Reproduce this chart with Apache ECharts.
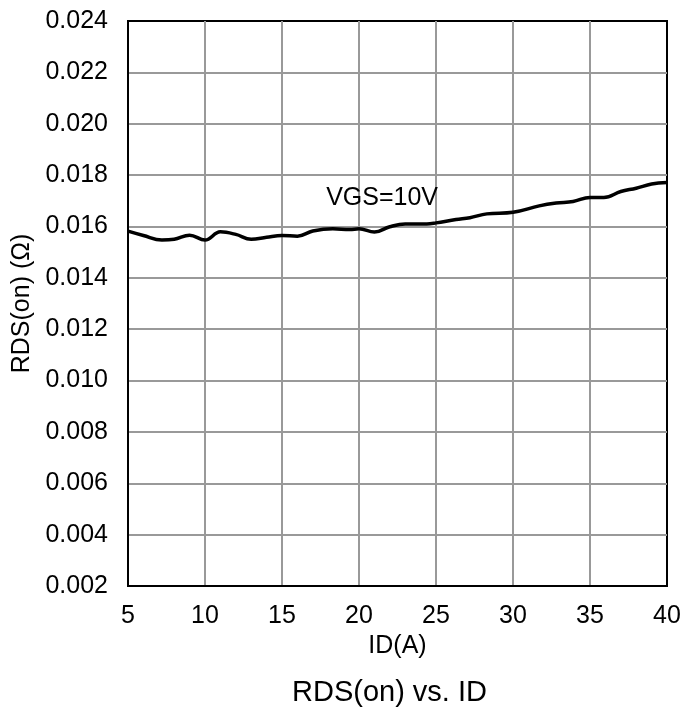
<!DOCTYPE html>
<html>
<head>
<meta charset="utf-8">
<script src="https://cdn.jsdelivr.net/npm/echarts@6/dist/echarts.min.js"></script>
<style>
  html, body { margin: 0; padding: 0; background: #fff; }
  #chart { width: 694px; height: 709px; }
</style>
</head>
<body>
<div id="chart"></div>
<script>
// ID (A)
let idValues = [5, 6, 7.2, 8, 9, 10, 11, 12, 13, 14, 15, 16, 17, 18.3, 19.4, 20, 21, 22, 23, 24.4, 25,
  26.3, 27.2, 28.3, 30, 31.7, 32.8, 33.9, 35, 35.9, 37, 38, 39, 40];
// RDS(on) (ohm), VGS=10V
let rdsValues = [0.01582, 0.01565, 0.01547, 0.0155, 0.01566, 0.01547, 0.01579, 0.01569, 0.0155, 0.01558,
  0.01565, 0.01562, 0.01582, 0.01591, 0.01588, 0.01591, 0.01578, 0.01599, 0.0161, 0.0161, 0.01614,
  0.01627, 0.01634, 0.01649, 0.01655, 0.0168, 0.01691, 0.01697, 0.01713, 0.01713, 0.01736, 0.01749,
  0.01765, 0.01771];
let curveLabel = 'VGS=10V';
let labelAt = [21.5, 0.0171];

(function () {
  let myChart = echarts.init(document.getElementById('chart'));
  let font = "'Liberation Sans', Arial, sans-serif";

  let option = {
    animation: false,
    title: {
      text: 'RDS(on) vs. ID',
      left: 287,
      top: 673,
      textStyle: { color: '#000', fontSize: 29, fontWeight: 'normal', fontFamily: font }
    },
    grid: {
      left: 128, right: 27, top: 21, bottom: 123,
      show: true,
      borderColor: '#000',
      borderWidth: 2
    },
    xAxis: {
      type: 'value',
      min: 5, max: 40, interval: 5,
      name: 'ID(A)',
      nameLocation: 'middle',
      nameGap: 45,
      nameTextStyle: { color: '#000', fontSize: 25, fontFamily: font },
      axisLine: { lineStyle: { color: '#000', width: 2 } },
      axisTick: { show: false },
      axisLabel: { color: '#000', fontSize: 25, fontFamily: font, margin: 18 },
      splitLine: { show: true, showMinLine: false, showMaxLine: false, lineStyle: { color: '#999', width: 2 } }
    },
    yAxis: {
      type: 'value',
      min: 0.002, max: 0.024, interval: 0.002,
      name: 'RDS(on) (Ω)',
      nameLocation: 'middle',
      nameGap: 93,
      nameTextStyle: { color: '#000', fontSize: 25, fontFamily: font },
      axisLine: { show: true, lineStyle: { color: '#000', width: 2 } },
      axisTick: { show: false },
      axisLabel: {
        color: '#000', fontSize: 25, fontFamily: font, margin: 20,
        formatter: function (v) { return v.toFixed(3); }
      },
      splitLine: { show: true, showMinLine: false, showMaxLine: false, lineStyle: { color: '#999', width: 2 } }
    },
    series: [{
      type: 'line',
      data: idValues.map((x, i) => [x, rdsValues[i]]),
      smooth: 0.4,
      symbol: 'none',
      lineStyle: { color: '#000', width: 3.5 },
      markPoint: {
        symbolSize: 0,
        data: [{ coord: labelAt }],
        label: {
          show: true,
          position: 'inside',
          formatter: curveLabel,
          color: '#000',
          fontSize: 25,
          fontFamily: font
        }
      }
    }]
  };
  myChart.setOption(option);
})();
</script>
</body>
</html>
